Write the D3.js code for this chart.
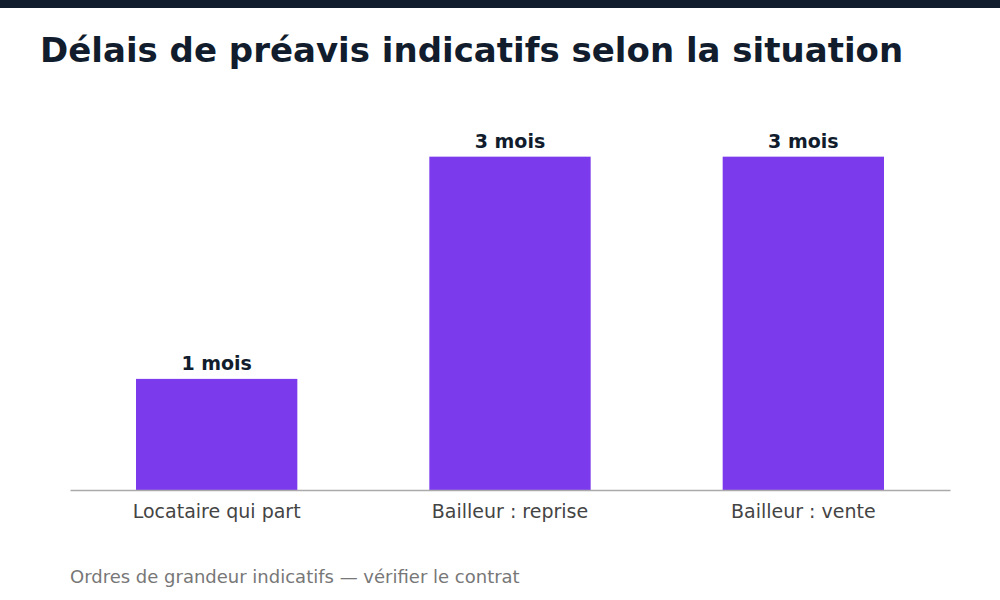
<!DOCTYPE html>
<html>
<head>
<meta charset="utf-8">
<script src="https://cdn.jsdelivr.net/npm/d3@7"></script>
<style>
  body { margin: 0; background: #fff; }
  svg { display: block; font-family: "DejaVu Sans", sans-serif; }
</style>
</head>
<body>
<div id="chart"></div>
<script>
var categories = ['Locataire qui part', 'Bailleur : reprise', 'Bailleur : vente'];
var values = [1, 3, 3];
var valueLabels = ['1 mois', '3 mois', '3 mois'];

var width = 1000, height = 600;
var margin = {left: 70, right: 50, top: 90, bottom: 110};

var svg = d3.select('#chart').append('svg')
    .attr('width', width)
    .attr('height', height);

// top strip
svg.append('rect')
    .attr('x', 0).attr('y', 0)
    .attr('width', width).attr('height', 8)
    .attr('fill', '#111c2d');

svg.append('text')
    .attr('x', 40).attr('y', 62)
    .attr('font-size', 34)
    .attr('font-weight', 'bold')
    .attr('fill', '#111c2d')
    .text('Délais de préavis indicatifs selon la situation');

var x = d3.scaleBand()
    .domain(categories)
    .range([margin.left, width - margin.right])
    .paddingInner(0.45)
    .paddingOuter(0.225);

var y = d3.scaleLinear()
    .domain([0, d3.max(values) * 1.2])
    .range([height - margin.bottom, margin.top]);

var data = categories.map(function (c, i) {
    return {cat: c, value: values[i], label: valueLabels[i]};
});

svg.selectAll('rect.bar')
    .data(data)
    .enter()
    .append('rect')
    .attr('class', 'bar')
    .attr('x', function (d) { return x(d.cat); })
    .attr('y', function (d) { return y(d.value); })
    .attr('width', x.bandwidth())
    .attr('height', function (d) { return y(0) - y(d.value); })
    .attr('fill', '#7c3aed');

svg.selectAll('text.val')
    .data(data)
    .enter()
    .append('text')
    .attr('class', 'val')
    .attr('x', function (d) { return x(d.cat) + x.bandwidth() / 2; })
    .attr('y', function (d) { return y(d.value) - 9; })
    .attr('text-anchor', 'middle')
    .attr('font-size', 19)
    .attr('font-weight', 'bold')
    .attr('fill', '#111c2d')
    .text(function (d) { return d.label; });

// x axis
var xAxis = svg.append('g')
    .attr('transform', 'translate(0,' + y(0) + ')')
    .call(d3.axisBottom(x).tickSize(0).tickPadding(15));
xAxis.select('.domain')
    .attr('stroke', '#aaaaaa')
    .attr('stroke-width', 1.5);
xAxis.selectAll('text')
    .attr('font-family', '"DejaVu Sans", sans-serif')
    .attr('font-size', 19)
    .attr('fill', '#444444');

svg.append('text')
    .attr('x', 70).attr('y', 583)
    .attr('font-size', 18)
    .attr('fill', '#777777')
    .text('Ordres de grandeur indicatifs — vérifier le contrat');
</script>
</body>
</html>
